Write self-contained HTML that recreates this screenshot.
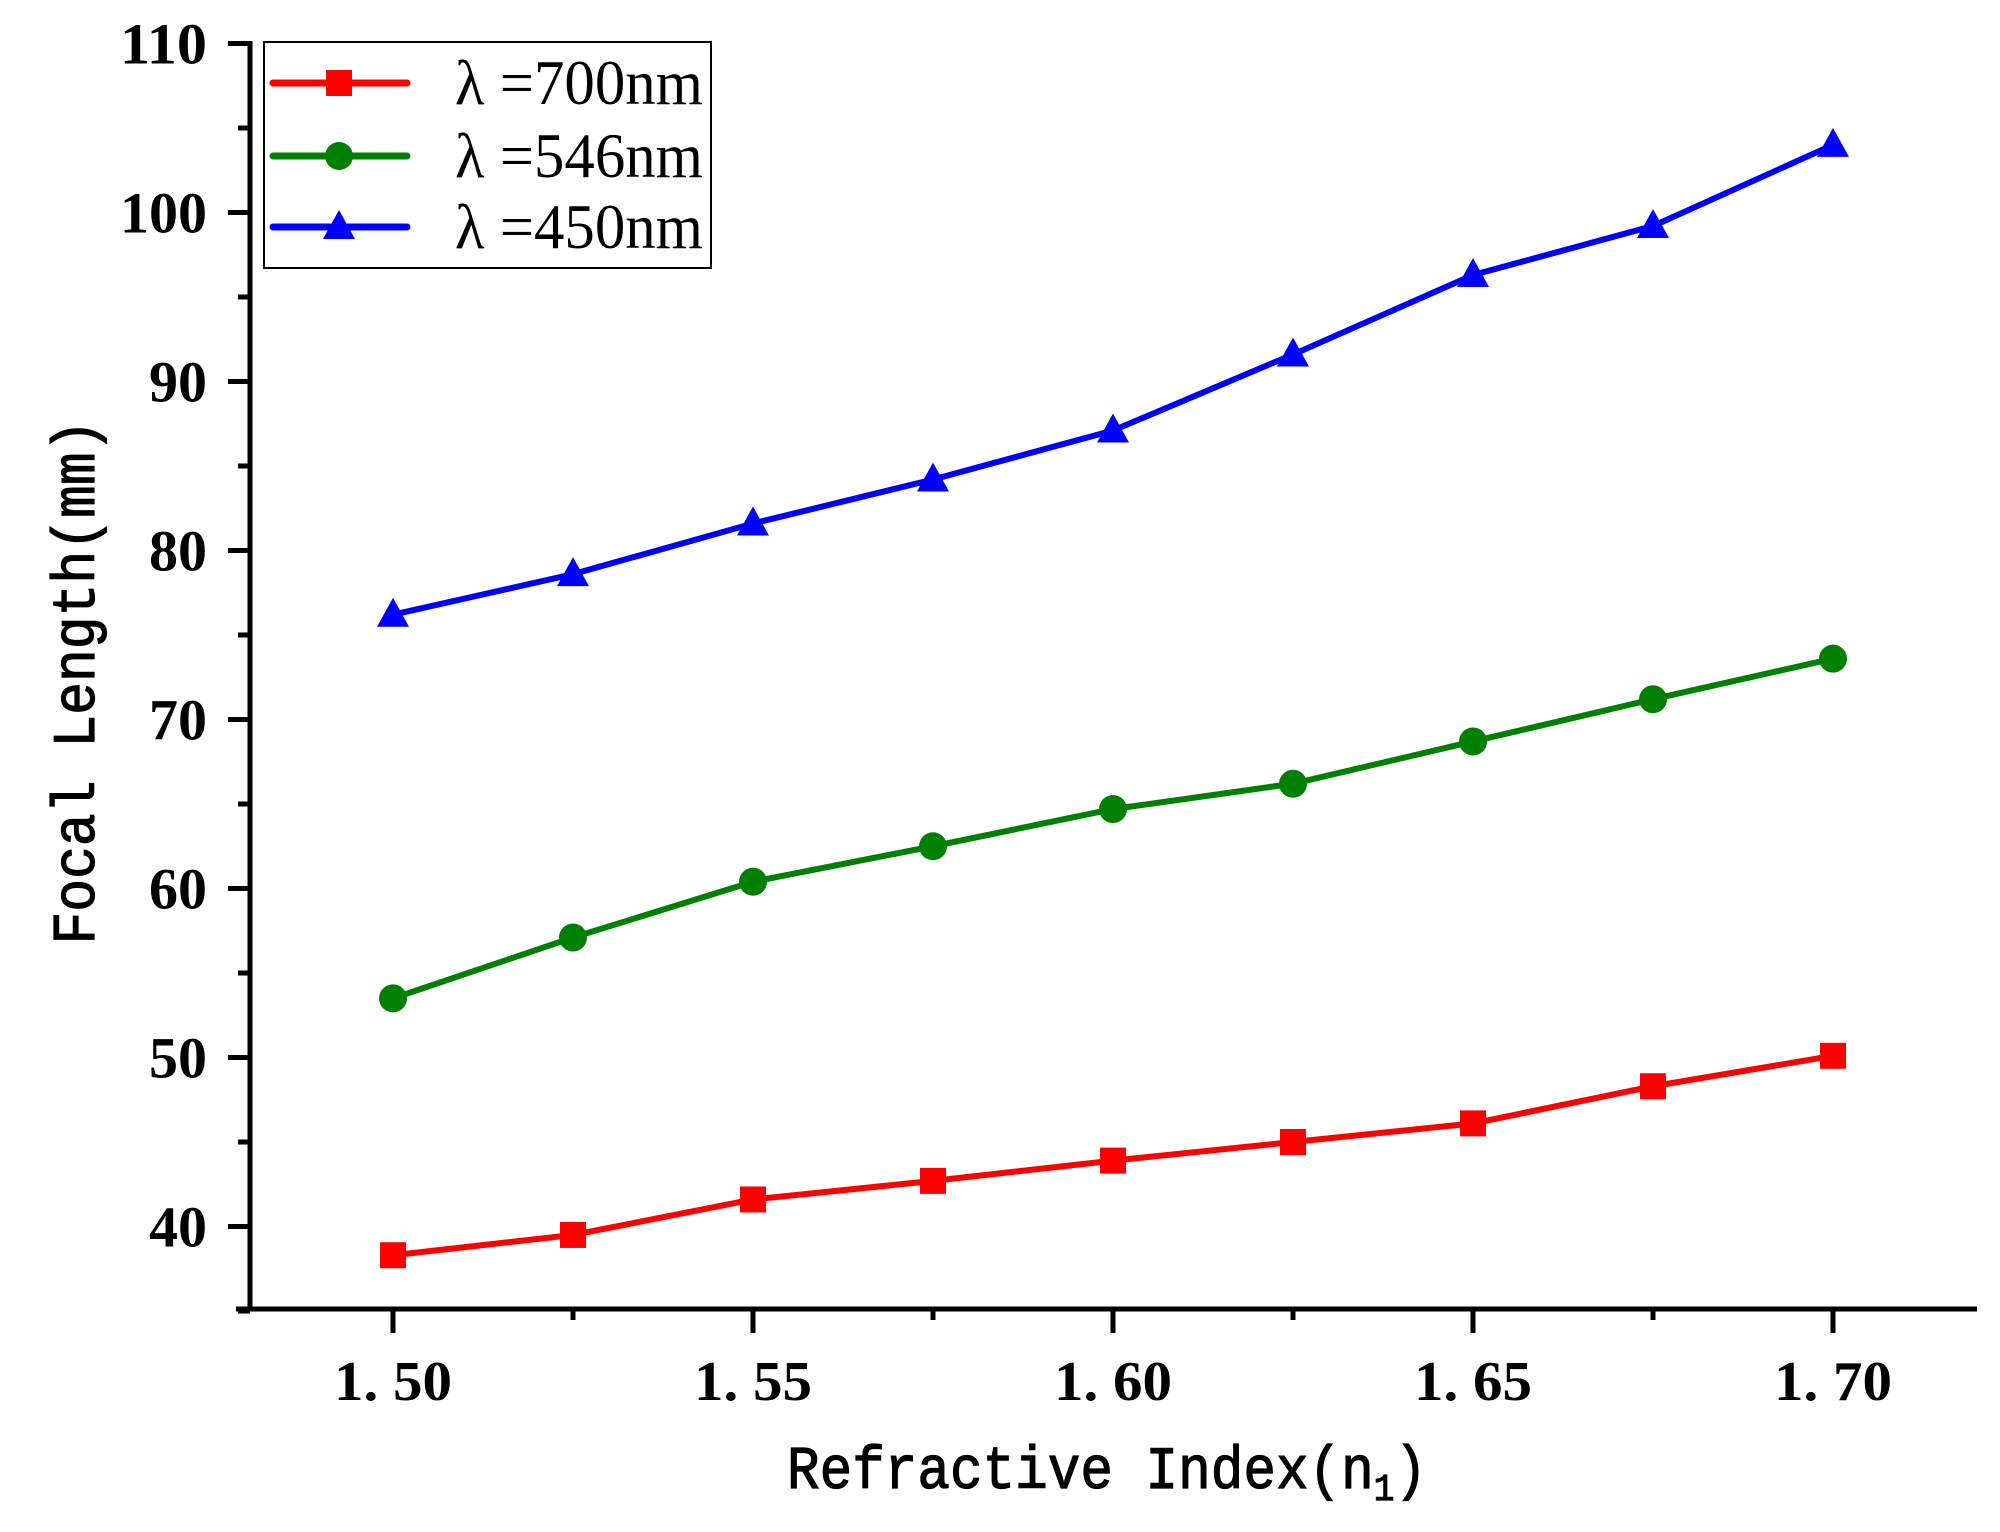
<!DOCTYPE html>
<html><head><meta charset="utf-8"><style>
html,body{margin:0;padding:0;background:#fff;}
svg{display:block;}
</style></head><body>
<svg id="chart" width="2000" height="1532" viewBox="0 0 2000 1532" xmlns="http://www.w3.org/2000/svg">
<g id="grid"></g>
<g id="axes"></g>
<g id="series"></g>
<g id="legend"></g>
</svg>
<script>
const xValues = [1.50, 1.525, 1.55, 1.575, 1.60, 1.625, 1.65, 1.675, 1.70];
const series700 = [38.3, 39.5, 41.6, 42.7, 43.9, 45.0, 46.1, 48.3, 50.1];
const series546 = [53.5, 57.1, 60.4, 62.5, 64.7, 66.2, 68.7, 71.2, 73.6];
const series450 = [76.2, 78.6, 81.6, 84.2, 87.1, 91.6, 96.3, 99.2, 104.0];
const xTickValues = [1.50, 1.55, 1.60, 1.65, 1.70];
const xTickLabels = ["1. 50", "1. 55", "1. 60", "1. 65", "1. 70"];
const yTickValues = [40, 50, 60, 70, 80, 90, 100, 110];
const yTickLabels = ["40", "50", "60", "70", "80", "90", "100", "110"];
const seriesNames = ["λ =700nm", "λ =546nm", "λ =450nm"];

const NS = "http://www.w3.org/2000/svg";
function X(v){ return 393 + (v - 1.50) / 0.025 * 180; }
function Y(v){ return 1226.5 - (v - 40) * 16.9; }
function mk(tag, attrs, parent){
  const e = document.createElementNS(NS, tag);
  for (const k in attrs) e.setAttribute(k, attrs[k]);
  parent.appendChild(e);
  return e;
}
const axes = document.getElementById('axes');
const ser = document.getElementById('series');
const leg = document.getElementById('legend');

let yl = mk('line', {x1:250, y1:41, x2:250, y2:1311, stroke:'#000', 'stroke-width':5}, axes);


let xl = mk('line', {x1:236, y1:1309, x2:1977, y2:1309, stroke:'#000', 'stroke-width':5}, axes);



for (let v = 35; v <= 110; v += 5) {
  const major = v % 10 === 0;
  const t = mk('line', {x1: major ? 228 : 238, y1: Y(v), x2: 250, y2: Y(v), stroke:'#000', 'stroke-width':5}, axes);
  
  
}
yTickValues.forEach((v, i) => {
  const w = yTickLabels[i].length * 29;
  const t = mk('text', {x: 207, y: Y(v) + 20, 'text-anchor':'end', 'font-family':'"Liberation Serif", serif', 'font-weight':'bold', 'font-size':58, textLength:w, lengthAdjust:'spacingAndGlyphs'}, axes);
  t.textContent = yTickLabels[i];
  
  
});
for (let v = 1.475; v <= 1.7251; v += 0.025) {
  const idx = Math.round((v - 1.50) / 0.025);
  if (v < 1.49) continue;
  const major = idx % 2 === 0;
  const t = mk('line', {x1: X(v), y1: 1309, x2: X(v), y2: major ? 1333 : 1320, stroke:'#000', 'stroke-width':5}, axes);
  
  
}
xTickValues.forEach((v, i) => {
  const t = mk('text', {x: X(v), y: 1400, 'text-anchor':'middle', 'font-family':'"Liberation Serif", serif', 'font-weight':'bold', 'font-size':56, textLength:118, lengthAdjust:'spacingAndGlyphs'}, axes);
  t.textContent = xTickLabels[i];
  
  
});
let xt = mk('text', {x: 1107, y: 1488, 'text-anchor':'middle', 'font-family':'"Liberation Mono", monospace', 'font-size':60, 'stroke':'#000', 'stroke-width':1.2, textLength:640, lengthAdjust:'spacingAndGlyphs'}, axes);
xt.innerHTML = 'Refractive Index(n<tspan font-size="38" dy="12">1</tspan><tspan dy="-12">)</tspan>';


let yt = mk('text', {x: 0, y: 0, 'text-anchor':'middle', 'font-family':'"Liberation Mono", monospace', 'font-size':60, 'stroke':'#000', 'stroke-width':1.2, textLength:525, lengthAdjust:'spacingAndGlyphs', transform:'translate(94,682) rotate(-90)'}, axes);
yt.textContent = 'Focal Length(mm)';



function marker(type, cx, cy, color, parent){
  let m;
  if (type === 'square') m = mk('rect', {x: cx-13, y: cy-13, width:26, height:26, fill: color}, parent);
  else if (type === 'circle') m = mk('circle', {cx: cx, cy: cy, r: 14, fill: color}, parent);
  else m = mk('polygon', {points: `${cx},${cy-17} ${cx-16},${cy+12} ${cx+16},${cy+12}`, fill: color}, parent);
  return m;
}
const defs = [
  {vals: series700, color:'#ff0000', type:'square', name:'series-700nm'},
  {vals: series546, color:'#008000', type:'circle', name:'series-546nm'},
  {vals: series450, color:'#0000ff', type:'triangle', name:'series-450nm'}
];
defs.forEach(d => {
  const g = mk('g', {}, ser);
  
  
  const pts = d.vals.map((v, i) => X(xValues[i]) + ',' + Y(v)).join(' ');
  const pl = mk('polyline', {points: pts, fill:'none', stroke: d.color, 'stroke-width':6, 'stroke-linejoin':'round'}, g);
  
  
  d.vals.forEach((v, i) => {
    const m = marker(d.type, X(xValues[i]), Y(v), d.color, g);
    
    
  });
});

const box = mk('rect', {x:264, y:42, width:447, height:226, fill:'#fff', stroke:'#000', 'stroke-width':2}, leg);


const rowY = [83, 156, 227];
defs.forEach((d, i) => {
  const g = mk('g', {}, leg);
  
  
  mk('line', {x1:273, y1:rowY[i], x2:407, y2:rowY[i], stroke:d.color, 'stroke-width':7, 'stroke-linecap':'round'}, g);
  marker(d.type, 339, rowY[i], d.color, g);
  const t = mk('text', {x:455, y:rowY[i]+21, 'font-family':'"Liberation Serif", serif', 'font-size':64, textLength:248, lengthAdjust:'spacingAndGlyphs'}, g);
  t.textContent = seriesNames[i];
});
</script>
</body></html>
